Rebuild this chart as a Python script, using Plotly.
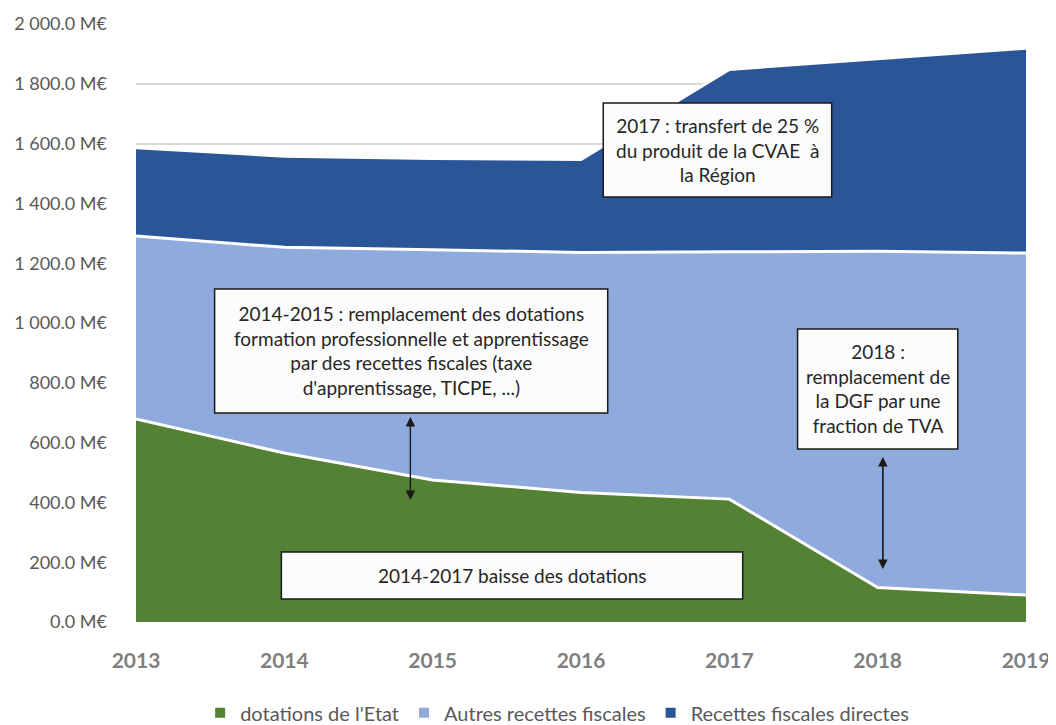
import plotly.graph_objects as go

years = [2013, 2014, 2015, 2016, 2017, 2018, 2019]
dotations = [679, 565, 475, 433, 411, 115, 90]
autres = [612, 688, 770, 803, 827, 1125, 1144]
directes = [295, 305, 305, 311, 610, 643, 685]

series_names = ["dotations de l'Etat", "Autres recettes fiscales", "Recettes fiscales directes"]
series_colors = ["#548235", "#8FAADC", "#2A5596"]
series_values = [dotations, autres, directes]

font_family = "Lato, 'Open Sans', sans-serif"

fig = go.Figure()
for name, color, vals in zip(series_names, series_colors, series_values):
    fig.add_trace(go.Scatter(
        x=years, y=vals, name=name, stackgroup="one", mode="lines",
        line=dict(color="white", width=3), fillcolor=color,
        hoverinfo="x+y+name", showlegend=False, legendgroup=name,
    ))
# legend entries with small square markers (as in the original)
for name, color in zip(series_names, series_colors):
    fig.add_trace(go.Scatter(
        x=[None], y=[None], name=name, mode="markers", legendgroup=name,
        marker=dict(symbol="square", size=10, color=color), showlegend=True,
    ))

# annotation boxes (data coordinates)
boxes = [
    dict(x0=2016.15, x1=2017.69, y0=1421, y1=1736,
         text="2017 : transfert de 25 %<br>du produit de la CVAE  à<br>la Région"),
    dict(x0=2013.53, x1=2016.18, y0=699, y1=1114,
         text="2014-2015 : remplacement des dotations<br>formation professionnelle et apprentissage<br>par des recettes fiscales (taxe<br>d'apprentissage, TICPE, ...)"),
    dict(x0=2017.46, x1=2018.54, y0=579, y1=980,
         text="2018 :<br>remplacement de<br>la DGF par une<br>fraction de TVA"),
    dict(x0=2013.98, x1=2017.09, y0=77, y1=234,
         text="2014-2017 baisse des dotations"),
]
for b in boxes:
    fig.add_shape(type="rect", xref="x", yref="y", x0=b["x0"], x1=b["x1"], y0=b["y0"], y1=b["y1"],
                  line=dict(color="#1a1a1a", width=1.5), fillcolor="#FCFCFC", layer="above")
    fig.add_annotation(x=(b["x0"] + b["x1"]) / 2, y=(b["y0"] + b["y1"]) / 2, xref="x", yref="y",
                       text=b["text"], showarrow=False, align="center",
                       font=dict(family=font_family, size=19, color="#262626"))

# double arrows
arrows = [
    dict(x=2014.85, y_top=686, y_bot=408),
    dict(x=2018.035, y_top=552, y_bot=177),
]
for a in arrows:
    for (y_from, y_to) in [(a["y_top"], a["y_bot"]), (a["y_bot"], a["y_top"])]:
        fig.add_annotation(x=a["x"], y=y_to, ax=a["x"], ay=y_from, xref="x", yref="y",
                           axref="x", ayref="y", showarrow=True, arrowhead=2, arrowsize=1.6,
                           arrowwidth=1.2, arrowcolor="#1a1a1a", text="")

fig.update_layout(
    width=1048, height=717,
    margin=dict(l=128, r=30, t=16, b=103, autoexpand=False),
    paper_bgcolor="white", plot_bgcolor="white",
    separators=". ",
    showlegend=True,
    legend=dict(orientation="h", xref="container", yref="container", x=0.524, y=0.017,
                xanchor="center", yanchor="middle",
                font=dict(family=font_family, size=20, color="#595959"),
                itemwidth=30, traceorder="normal"),
    font=dict(family=font_family),
)
fig.update_xaxes(range=[2013, 2019], tickmode="array", tickvals=years, ticktext=[str(y) for y in years],
                 showgrid=False, zeroline=False, showline=False,
                 tickfont=dict(family=font_family, size=21, color="#7F7F7F", weight="bold"),
                 ticklabelstandoff=24)
fig.update_yaxes(range=[0, 2000], tickmode="linear", tick0=0, dtick=200, tickformat=",.1f",
                 ticksuffix=" M€", showgrid=True, gridcolor="#D9D9D9", gridwidth=1.5,
                 zeroline=False, showline=False,
                 tickfont=dict(family=font_family, size=18, color="#595959"),
                 ticklabelstandoff=28)

fig.write_html("out.html")
